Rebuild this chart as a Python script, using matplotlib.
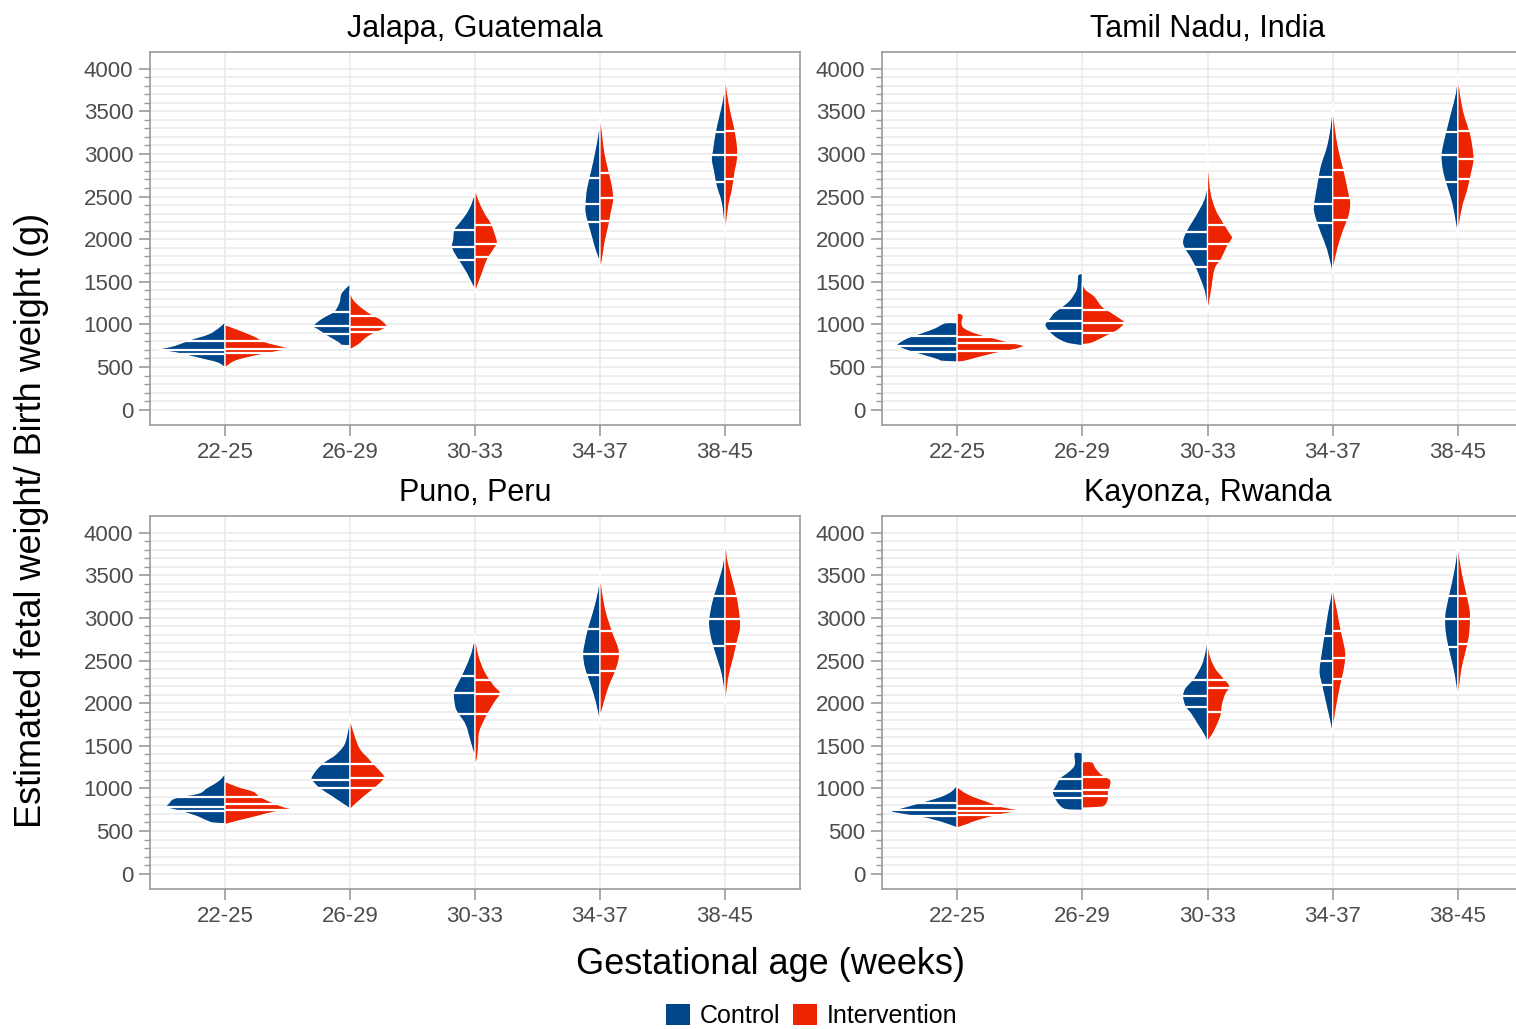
import matplotlib
matplotlib.use("Agg")
import matplotlib.pyplot as plt
from matplotlib.path import Path
from matplotlib.patches import PathPatch, Patch

plt.rcParams['font.family'] = ['Liberation Sans', 'DejaVu Sans']

# ---------------------------------------------------------------------------
# Data
# ---------------------------------------------------------------------------
AGE_GROUPS = ["22-25", "26-29", "30-33", "34-37", "38-45"]
SITES = ["Jalapa, Guatemala", "Tamil Nadu, India", "Puno, Peru", "Kayonza, Rwanda"]
ARMS = ["Control", "Intervention"]
ARM_COLORS = ["#00468B", "#EC2400"]

# Density profiles: (weight in g, half-width in category units), bottom to top.
# Quartiles: (Q1, median, Q3) in g.
JALAPA_CONTROL = [
    [(489, 0), (547, .06), (606, .22), (665, .39), (704, .53), (755, .40), (821, .28), (891, .13), (977, .04), (1036, 0)],
    [(752, 0), (755, .07), (782, .09), (860, .18), (938, .26), (977, .30), (1036, .26), (1095, .20), (1153, .13), (1251, .09), (1369, .07), (1478, 0)],
    [(1408, 0), (1486, .03), (1603, .07), (1720, .12), (1838, .17), (1916, .19), (1994, .18), (2111, .17), (2190, .13), (2307, .07), (2424, .03), (2561, 0)],
    [(1720, 0), (1877, .04), (2033, .07), (2190, .10), (2307, .12), (2424, .12), (2581, .11), (2776, .08), (2972, .05), (3206, .02), (3402, 0)],
    [(2111, 0), (2190, .01), (2424, .03), (2620, .07), (2776, .09), (2933, .11), (3050, .10), (3245, .08), (3441, .05), (3636, .02), (3832, 0)],
]
JALAPA_CONTROL_Q = [(657, 704, 809), (892, 985, 1141), (1760, 1908, 2111), (2197, 2416, 2718), (2667, 2991, 3261)]
JALAPA_INTERVENTION = [
    [(489, 0), (567, .08), (618, .21), (665, .36), (704, .50), (723, .51), (762, .41), (802, .31), (860, .24), (938, .11), (997, 0)],
    [(704, 0), (762, .07), (860, .15), (938, .26), (977, .30), (1056, .25), (1114, .18), (1193, .10), (1290, .03), (1388, 0)],
    [(1369, 0), (1486, .03), (1603, .06), (1760, .10), (1877, .15), (1955, .18), (2072, .16), (2190, .13), (2307, .08), (2463, .03), (2600, 0)],
    [(1642, 0), (1760, .02), (1955, .04), (2150, .07), (2307, .09), (2463, .11), (2620, .10), (2815, .07), (3011, .04), (3245, .02), (3480, 0)],
    [(2033, 0), (2150, .01), (2385, .03), (2581, .06), (2776, .08), (2933, .10), (3089, .10), (3284, .08), (3480, .05), (3715, .02), (3969, 0)],
]
JALAPA_INTERVENTION_Q = [(665, 715, 800), (907, 965, 1103), (1787, 1947, 2162), (2217, 2483, 2776), (2706, 2991, 3269)]

TAMIL_CONTROL = [
    [(559, 0), (567, .12), (587, .16), (645, .29), (704, .42), (751, .48), (782, .47), (841, .40), (899, .29), (958, .18), (1017, .10), (1020, 0)],
    [(751, 0), (755, .03), (782, .13), (841, .21), (919, .27), (997, .30), (1056, .27), (1134, .23), (1212, .16), (1290, .10), (1408, .05), (1525, .04), (1580, .035), (1603, 0)],
    [(1251, 0), (1260, .01), (1408, .03), (1603, .08), (1760, .13), (1877, .18), (1955, .20), (2033, .19), (2150, .15), (2268, .10), (2463, .03), (2659, 0)],
    [(1603, 0), (1642, .01), (1877, .05), (2072, .10), (2268, .145), (2385, .155), (2620, .13), (2854, .10), (3089, .05), (3324, .02), (3597, 0)],
    [(2033, 0), (2190, .02), (2424, .05), (2620, .09), (2776, .12), (2933, .135), (3050, .13), (3245, .10), (3480, .06), (3715, .02), (3949, 0)],
]
TAMIL_CONTROL_Q = [(676, 751, 860), (919, 1036, 1193), (1673, 1889, 2080), (2190, 2416, 2725), (2667, 2991, 3257)]
TAMIL_INTERVENTION = [
    [(559, 0), (567, .06), (606, .16), (665, .32), (712, .48), (751, .53), (782, .45), (841, .29), (899, .15), (958, .06), (1017, .04), (1095, .05), (1126, .03), (1130, 0)],
    [(762, 0), (782, .08), (860, .19), (938, .29), (1017, .34), (1056, .32), (1134, .24), (1212, .16), (1329, .10), (1408, .03), (1486, 0)],
    [(1134, 0), (1369, .03), (1642, .06), (1760, .11), (1916, .16), (2014, .20), (2072, .18), (2190, .13), (2346, .07), (2541, .03), (2815, .01), (3167, 0)],
    [(1603, 0), (1682, .01), (1877, .04), (2072, .08), (2268, .13), (2424, .145), (2541, .13), (2815, .09), (3050, .05), (3324, .02), (3597, 0)],
    [(2033, 0), (2150, .01), (2385, .04), (2581, .08), (2776, .11), (2933, .13), (3089, .12), (3245, .10), (3480, .05), (3715, .02), (3949, 0)],
]
TAMIL_INTERVENTION_Q = [(684, 782, 852), (899, 1017, 1173), (1740, 1943, 2162), (2229, 2483, 2815), (2706, 2944, 3269)]

PUNO_CONTROL = [
    [(587, 0), (594, .10), (633, .17), (672, .23), (731, .36), (778, .47), (829, .45), (888, .40), (946, .21), (1005, .15), (1064, .08), (1122, .03), (1181, 0)],
    [(762, 0), (809, .05), (907, .15), (1005, .25), (1103, .31), (1161, .30), (1239, .26), (1318, .20), (1396, .12), (1513, .05), (1670, .02), (1846, 0)],
    [(1357, 0), (1552, .04), (1748, .08), (1904, .15), (2021, .17), (2139, .17), (2295, .12), (2452, .07), (2608, .03), (2803, 0)],
    [(1748, 0), (1826, .01), (2021, .04), (2217, .08), (2412, .125), (2569, .14), (2686, .13), (2882, .10), (3077, .06), (3312, .02), (3507, 0)],
    [(2061, 0), (2139, .01), (2334, .03), (2530, .07), (2725, .11), (2882, .13), (2999, .13), (3194, .105), (3390, .065), (3625, .02), (3859, 0)],
]
PUNO_CONTROL_Q = [(731, 778, 895), (1005, 1103, 1286), (1873, 2119, 2323), (2326, 2577, 2870), (2667, 2991, 3261)]
PUNO_INTERVENTION = [
    [(575, 0), (614, .10), (672, .26), (723, .40), (751, .54), (790, .46), (849, .36), (907, .28), (966, .23), (1024, .10), (1083, 0)],
    [(751, 0), (848, .07), (946, .15), (1044, .23), (1122, .28), (1181, .26), (1259, .21), (1357, .15), (1474, .08), (1670, .03), (1826, 0)],
    [(1259, 0), (1357, .02), (1513, .03), (1670, .04), (1865, .10), (2021, .165), (2119, .205), (2217, .15), (2374, .08), (2569, .03), (2803, 0)],
    [(1826, 0), (1982, .03), (2178, .07), (2373, .125), (2530, .155), (2647, .15), (2843, .10), (3077, .05), (3312, .02), (3546, 0)],
    [(1982, 0), (2061, .01), (2295, .03), (2530, .07), (2725, .10), (2882, .125), (3038, .12), (3234, .10), (3468, .06), (3703, .02), (3977, 0)],
]
PUNO_INTERVENTION_Q = [(751, 817, 895), (1005, 1122, 1286), (1877, 2107, 2276), (2373, 2577, 2850), (2694, 2991, 3261)]

KAYONZA_CONTROL = [
    [(536, 0), (594, .11), (653, .26), (692, .42), (731, .53), (790, .40), (849, .26), (907, .13), (966, .05), (1044, 0)],
    [(743, 0), (751, .13), (790, .18), (849, .21), (907, .23), (966, .24), (1044, .21), (1122, .18), (1200, .11), (1279, .065), (1415, .065), (1418, 0)],
    [(1533, 0), (1630, .03), (1748, .08), (1865, .13), (1963, .18), (2080, .20), (2178, .18), (2295, .11), (2452, .05), (2608, .02), (2784, 0)],
    [(1630, 0), (1826, .03), (2021, .06), (2217, .09), (2373, .11), (2608, .09), (2843, .065), (3077, .04), (3312, .01), (3585, 0)],
    [(2100, 0), (2139, .01), (2334, .03), (2530, .06), (2725, .09), (2882, .105), (3038, .105), (3234, .08), (3429, .05), (3664, .02), (3898, 0)],
]
KAYONZA_CONTROL_Q = [(680, 751, 829), (888, 974, 1114), (1951, 2080, 2268), (2209, 2498, 2784), (2655, 2991, 3257)]
KAYONZA_INTERVENTION = [
    [(536, 0), (575, .08), (633, .19), (692, .35), (739, .50), (790, .35), (849, .24), (907, .13), (966, .05), (1024, 0)],
    [(770, 0), (778, .145), (809, .19), (888, .21), (966, .21), (1024, .225), (1103, .225), (1161, .16), (1239, .11), (1310, .08), (1313, 0)],
    [(1552, 0), (1630, .04), (1748, .08), (1865, .11), (1982, .12), (2100, .145), (2197, .18), (2295, .13), (2412, .065), (2569, .02), (2764, 0)],
    [(1670, 0), (1943, .03), (2178, .06), (2373, .09), (2530, .105), (2647, .10), (2843, .07), (3077, .04), (3312, .01), (3605, 0)],
    [(2100, 0), (2139, .01), (2373, .03), (2569, .06), (2764, .09), (2921, .10), (3077, .10), (3234, .08), (3429, .05), (3664, .02), (3898, 0)],
]
KAYONZA_INTERVENTION_Q = [(684, 739, 790), (907, 985, 1130), (1892, 2178, 2268), (2280, 2530, 2850), (2694, 2991, 3257)]

PANELS = [
    (JALAPA_CONTROL, JALAPA_CONTROL_Q, JALAPA_INTERVENTION, JALAPA_INTERVENTION_Q),
    (TAMIL_CONTROL, TAMIL_CONTROL_Q, TAMIL_INTERVENTION, TAMIL_INTERVENTION_Q),
    (PUNO_CONTROL, PUNO_CONTROL_Q, PUNO_INTERVENTION, PUNO_INTERVENTION_Q),
    (KAYONZA_CONTROL, KAYONZA_CONTROL_Q, KAYONZA_INTERVENTION, KAYONZA_INTERVENTION_Q),
]

# ---------------------------------------------------------------------------
# Drawing helpers
# ---------------------------------------------------------------------------
GRID = "#ebebeb"
FRAME = "#9a9a9a"
TICKTEXT = "#4d4d4d"


def half_violin_path(profile, center, side):
    """Smooth outline (Catmull-Rom as cubic Beziers) of one half violin."""
    pts = [(center + side * w, v) for v, w in profile]
    n = len(pts)
    verts = [pts[0]]
    codes = [Path.MOVETO]
    for i in range(n - 1):
        p0 = pts[i - 1] if i > 0 else pts[i]
        p1 = pts[i]
        p2 = pts[i + 1]
        p3 = pts[i + 2] if i + 2 < n else pts[i + 1]
        c1 = (p1[0] + (p2[0] - p0[0]) / 6.0, p1[1] + (p2[1] - p0[1]) / 6.0)
        c2 = (p2[0] - (p3[0] - p1[0]) / 6.0, p2[1] - (p3[1] - p1[1]) / 6.0)
        # keep control points on the correct side of the centre line
        c1 = (center + side * max(0.0, side * (c1[0] - center)), c1[1])
        c2 = (center + side * max(0.0, side * (c2[0] - center)), c2[1])
        verts += [c1, c2, p2]
        codes += [Path.CURVE4] * 3
    verts += [(center, profile[0][0]), (center, profile[0][0])]
    codes += [Path.LINETO, Path.CLOSEPOLY]
    return Path(verts, codes)


def draw_half(ax, profile, quartiles, center, side, color):
    patch = PathPatch(half_violin_path(profile, center, side), facecolor=color,
                      edgecolor="white", lw=0.9, zorder=3)
    ax.add_patch(patch)
    for q in quartiles:
        ln, = ax.plot([center, center + side * 0.7], [q, q], color="white",
                      lw=1.6, solid_capstyle="butt", zorder=4)
        ln.set_clip_path(patch)


# ---------------------------------------------------------------------------
# Figure
# ---------------------------------------------------------------------------
W, H = 1516, 1029
fig = plt.figure(figsize=(W / 100, H / 100), dpi=100)

# panel rectangles in pixels: left, top, right, bottom
rects = [(150, 52, 800, 425), (882, 52, 1533, 425),
         (150, 516, 800, 889), (882, 516, 1533, 889)]

x_pos = list(range(1, len(AGE_GROUPS) + 1))

for idx, (site, (c_prof, c_q, i_prof, i_q)) in enumerate(zip(SITES, PANELS)):
    l, t, r, b = rects[idx]
    ax = fig.add_axes([l / W, 1 - b / H, (r - l) / W, (b - t) / H])
    ax.set_xlim(0.4, 5.6)
    ax.set_ylim(-180, 4195)
    ax.set_facecolor("white")

    for y in range(0, 4001, 100):
        ax.axhline(y, color=GRID, lw=1.2, zorder=0)
    for x in x_pos:
        ax.axvline(x, color=GRID, lw=1.2, zorder=0)

    for k, x in enumerate(x_pos):
        draw_half(ax, c_prof[k], c_q[k], x, -1, ARM_COLORS[0])
        draw_half(ax, i_prof[k], i_q[k], x, +1, ARM_COLORS[1])

    ax.set_xticks(x_pos)
    ax.set_xticklabels(AGE_GROUPS)
    ax.set_yticks(range(0, 4001, 500))
    ax.set_yticks(range(0, 4001, 100), minor=True)
    ax.tick_params(axis="both", which="major", colors=FRAME, labelcolor=TICKTEXT,
                   labelsize=16, length=8, width=1.2, pad=4)
    ax.tick_params(axis="y", which="minor", colors=FRAME, length=4.5, width=1.0)
    ax.tick_params(axis="x", which="minor", bottom=False)
    for s in ax.spines.values():
        s.set_color(FRAME)
        s.set_linewidth(1.2)
    ax.set_title(site, fontsize=22, color="black", pad=11)

fig.text(770 / W, 1 - 965 / H, "Gestational age (weeks)", ha="center", va="center",
         fontsize=26, color="black")
fig.text(32 / W, 1 - 520 / H, "Estimated fetal weight/ Birth weight (g)", ha="center",
         va="center", rotation=90, fontsize=26, color="black")

handles = [Patch(facecolor=c, edgecolor="none", label=a) for a, c in zip(ARMS, ARM_COLORS)]
fig.legend(handles=handles, loc="center", bbox_to_anchor=(812 / W, 1 - 1016 / H), ncol=2,
           frameon=False, fontsize=18, handlelength=0.95, handleheight=0.95,
           handletextpad=0.4, columnspacing=0.5, borderpad=0)

fig.savefig("out.png", dpi=100, facecolor="white")
